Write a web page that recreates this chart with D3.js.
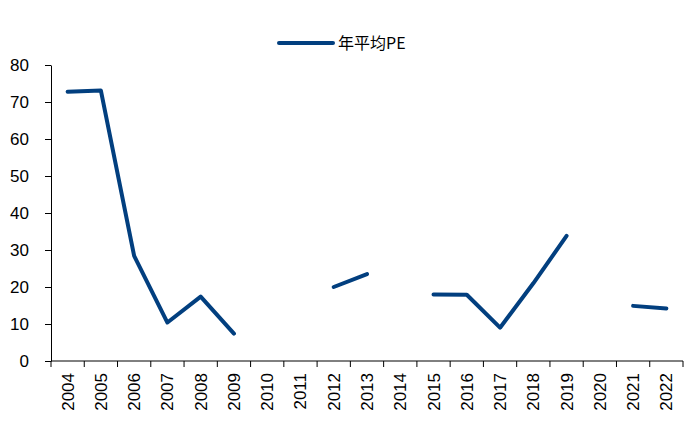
<!DOCTYPE html>
<html>
<head>
<meta charset="utf-8">
<script src="https://cdn.jsdelivr.net/npm/d3@7"></script>
<style>
  body { margin: 0; background: #fff; }
  text { font-family: "Liberation Sans", Arial, sans-serif; fill: #000; }
</style>
</head>
<body>
<svg id="chart"></svg>
<script>
var years = ["2004","2005","2006","2007","2008","2009","2010","2011","2012","2013",
             "2014","2015","2016","2017","2018","2019","2020","2021","2022"];
var pe = [72.8, 73.1, 28.4, 10.4, 17.4, 7.4, null, null, 20.0, 23.5,
          null, 18.0, 17.9, 9.0, 21.0, 33.8, null, 14.9, 14.2];
var yTicks = [0, 10, 20, 30, 40, 50, 60, 70, 80];
var seriesName = "年平均PE";

var width = 700, height = 434;
var color = "#023f7f";
var svg = d3.select("#chart").attr("width", width).attr("height", height);

var x = d3.scaleBand().domain(years).range([51, 683]);
var y = d3.scaleLinear().domain([0, 80]).range([361, 65]);

// y axis
var yAxis = d3.axisLeft(y).tickValues(yTicks).tickSize(6).tickSizeOuter(0).tickPadding(5);
var gy = svg.append("g").attr("transform", "translate(51,0)").call(yAxis);
gy.selectAll("text").style("font-size", "17px").attr("dx", "-11");
gy.selectAll("line, path").attr("stroke", "#000").attr("stroke-width", 1);

// x axis, ticks on band edges
var gx = svg.append("g").attr("transform", "translate(0,361)");
gx.append("line").attr("x1", 51).attr("x2", 683).attr("stroke", "#000");
gx.selectAll(".tk").data(years.concat(["end"])).enter().append("line")
  .attr("x1", function(d, i){ return 51 + i * x.step(); })
  .attr("x2", function(d, i){ return 51 + i * x.step(); })
  .attr("y1", 0).attr("y2", 6).attr("stroke", "#000");
gx.selectAll(".lb").data(years).enter().append("text")
  .attr("transform", function(d){ return "translate(" + (x(d) + x.bandwidth() / 2 + 6) + ",12) rotate(-90)"; })
  .attr("text-anchor", "end")
  .style("font-size", "17px")
  .text(function(d){ return d; });

// line with gaps
var line = d3.line()
  .defined(function(d){ return d != null; })
  .x(function(d, i){ return x(years[i]) + x.bandwidth() / 2; })
  .y(function(d){ return y(d); });
svg.append("path").datum(pe)
  .attr("d", line)
  .attr("fill", "none")
  .attr("stroke", color)
  .attr("stroke-width", 4)
  .attr("stroke-linecap", "round")
  .attr("stroke-linejoin", "round");

// legend
var lg = svg.append("g").attr("transform", "translate(279,43)");
lg.append("line").attr("x1", 0).attr("x2", 54).attr("stroke", color)
  .attr("stroke-width", 4).attr("stroke-linecap", "round");
lg.append("text").attr("x", 59).attr("y", 6).style("font-size", "16px")
  .style("font-family", "'Noto Sans CJK SC', 'Liberation Sans', sans-serif")
  .text(seriesName);
</script>
</body>
</html>
